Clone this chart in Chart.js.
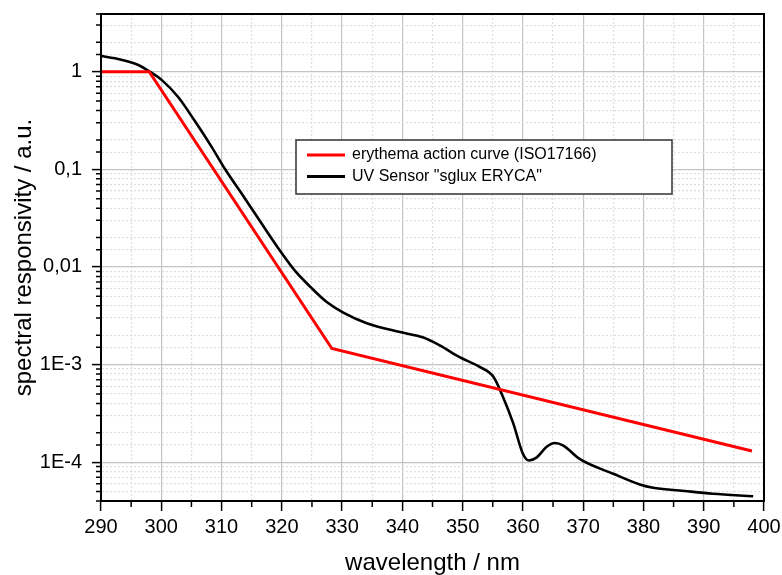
<!DOCTYPE html>
<html>
<head>
<meta charset="utf-8">
<script src="https://cdn.jsdelivr.net/npm/chart.js@4/dist/chart.umd.min.js"></script>
<style>
  body { margin: 0; background: #fff; }
  #wrap { width: 782px; height: 575px; }
</style>
</head>
<body>
<div id="wrap"><canvas id="plot" width="782" height="575"></canvas></div>
<script>
// Erythema action curve (ISO17166)
var erythemaNm   = [290, 298, 328.3, 398];
var erythemaResp = [1, 1, 1.46e-3, 1.3e-4];

// UV sensor "sglux ERYCA"
var sensorNm = [290, 292.3, 296.2, 298.1, 300.1, 302.8, 305.6, 308.4, 310.6, 313.9,
                316.7, 320, 322.2, 324.9, 327.4, 330.2, 334.1, 339.6, 343.5, 346.2,
                349.5, 352.9, 355.1, 356.8, 358.4, 360, 361, 362.3, 363.9, 365.3,
                366.7, 369.4, 375, 379.4, 381.6, 386, 391.5, 398.2];
var sensorResp = [1.45, 1.37, 1.17, 1.0, 0.82, 0.55, 0.31, 0.168, 0.1, 0.05,
                  0.0275, 0.0138, 0.0091, 0.0061, 0.0044, 0.0034, 0.00265, 0.00215, 0.00189, 0.00157,
                  0.00119, 0.00094, 0.00075, 0.00045, 0.00025, 0.000122, 0.000104, 0.000112, 0.000143, 0.000157,
                  0.000148, 0.000108, 0.000076, 0.000059, 0.0000546, 0.0000513, 0.0000474, 0.0000448];

// Tick labels for the decades
var decadeValues = [1, 0.1, 0.01, 1e-3, 1e-4];
var decadeLabels = ['1', '0,1', '0,01', '1E-3', '1E-4'];

function toPoints(xs, ys) {
    var points = [];
    for (var i = 0; i < xs.length; i++) {
        points.push({x: xs[i], y: ys[i]});
    }
    return points;
}

function isDecade(v) {
    var l = Math.log10(v);
    return Math.abs(l - Math.round(l)) < 1e-6;
}

function isMajorTick(ctx) {
    if (!ctx.tick) return true;
    if (ctx.scale.axis === 'y') return isDecade(ctx.tick.value);
    return Math.abs(ctx.tick.value % 10) < 1e-6;
}

// Minor tick marks, top/right frame and the boxed legend
var framePlugin = {
    id: 'frame',
    afterDraw: function(chart) {
        var ctx = chart.ctx, a = chart.chartArea;
        var xs = chart.scales.x, ys = chart.scales.y;
        ctx.save();
        ctx.strokeStyle = '#000';
        ctx.lineWidth = 1.5;
        ctx.beginPath();
        ys.ticks.forEach(function(t) {
            if (!isDecade(t.value)) {
                var py = ys.getPixelForValue(t.value);
                ctx.moveTo(a.left - 5, py);
                ctx.lineTo(a.left, py);
            }
        });
        xs.ticks.forEach(function(t) {
            if (Math.abs(t.value % 10) > 1e-6) {
                var px = xs.getPixelForValue(t.value);
                ctx.moveTo(px, a.bottom);
                ctx.lineTo(px, a.bottom + 6);
            }
        });
        ctx.stroke();

        ctx.lineWidth = 2;
        ctx.strokeRect(a.left, a.top, a.right - a.left, a.bottom - a.top);

        // legend
        var lx = 296, ly = 140, lw = 376, lh = 54;
        ctx.fillStyle = '#fff';
        ctx.fillRect(lx, ly, lw, lh);
        ctx.strokeStyle = '#333';
        ctx.lineWidth = 1.5;
        ctx.strokeRect(lx, ly, lw, lh);
        ctx.font = '16px "Liberation Sans", Arial, sans-serif';
        ctx.textBaseline = 'middle';
        chart.data.datasets.forEach(function(ds, i) {
            var rowY = ly + 15 + i * 21.5;
            ctx.strokeStyle = ds.borderColor;
            ctx.lineWidth = 3;
            ctx.beginPath();
            ctx.moveTo(lx + 11, rowY);
            ctx.lineTo(lx + 49, rowY);
            ctx.stroke();
            ctx.fillStyle = '#000';
            ctx.fillText(ds.label, lx + 56, rowY);
        });
        ctx.restore();
    }
};

new Chart(document.getElementById('plot'), {
    type: 'line',
    data: {
        datasets: [{
            label: 'erythema action curve (ISO17166)',
            data: toPoints(erythemaNm, erythemaResp),
            borderColor: '#ff0000',
            borderWidth: 3,
            pointRadius: 0,
            tension: 0
        }, {
            label: 'UV Sensor "sglux ERYCA"',
            data: toPoints(sensorNm, sensorResp),
            borderColor: '#000000',
            borderWidth: 2.6,
            pointRadius: 0,
            cubicInterpolationMode: 'monotone'
        }]
    },
    options: {
        responsive: false,
        animation: false,
        events: [],
        layout: {padding: {top: 14, right: 18, left: 0, bottom: 0}},
        plugins: {legend: {display: false}, tooltip: {enabled: false}},
        scales: {
            x: {
                type: 'linear',
                min: 290,
                max: 400,
                afterFit: function(scale) {
                    scale.height = 74;
                    scale.paddingLeft = 0;
                    scale.paddingRight = 0;
                },
                ticks: {
                    stepSize: 5,
                    autoSkip: false,
                    maxRotation: 0,
                    padding: 4,
                    color: '#000',
                    font: {family: '"Liberation Sans", Arial, sans-serif', size: 20},
                    callback: function(v) { return v % 10 === 0 ? String(v) : ''; }
                },
                grid: {
                    color: function(ctx) { return isMajorTick(ctx) ? '#c4c4c4' : '#dedede'; },
                    lineWidth: 1.2,
                    tickLength: 10,
                    tickWidth: 1.5,
                    tickColor: function(ctx) { return isMajorTick(ctx) ? '#000' : 'rgba(0,0,0,0)'; }
                },
                border: {
                    color: '#000',
                    width: 2,
                    dash: function(ctx) { return isMajorTick(ctx) ? [] : [2, 2]; }
                },
                title: {
                    display: true,
                    text: 'wavelength / nm',
                    color: '#000',
                    font: {family: '"Liberation Sans", Arial, sans-serif', size: 24, lineHeight: 1},
                    padding: {top: 0, bottom: 0}
                }
            },
            y: {
                type: 'logarithmic',
                min: 4e-5,
                max: 3.9,
                afterFit: function(scale) {
                    scale.width = 101;
                    scale.paddingTop = 0;
                    scale.paddingBottom = 0;
                },
                ticks: {
                    autoSkip: false,
                    padding: 10,
                    color: '#000',
                    font: {family: '"Liberation Sans", Arial, sans-serif', size: 20},
                    callback: function(v) {
                        for (var i = 0; i < decadeValues.length; i++) {
                            if (Math.abs(v - decadeValues[i]) < decadeValues[i] * 1e-6) return decadeLabels[i];
                        }
                        return '';
                    }
                },
                grid: {
                    color: function(ctx) { return isMajorTick(ctx) ? '#c4c4c4' : '#dedede'; },
                    lineWidth: 1.2,
                    tickLength: 9,
                    tickWidth: 1.5,
                    tickColor: function(ctx) { return isMajorTick(ctx) ? '#000' : 'rgba(0,0,0,0)'; }
                },
                border: {
                    color: '#000',
                    width: 2,
                    dash: function(ctx) { return isMajorTick(ctx) ? [] : [2, 2]; }
                },
                title: {
                    display: true,
                    text: 'spectral responsivity / a.u.',
                    color: '#000',
                    font: {family: '"Liberation Sans", Arial, sans-serif', size: 24, lineHeight: 1},
                    padding: {top: 12, bottom: 0}
                }
            }
        }
    },
    plugins: [framePlugin]
});
</script>
</body>
</html>
